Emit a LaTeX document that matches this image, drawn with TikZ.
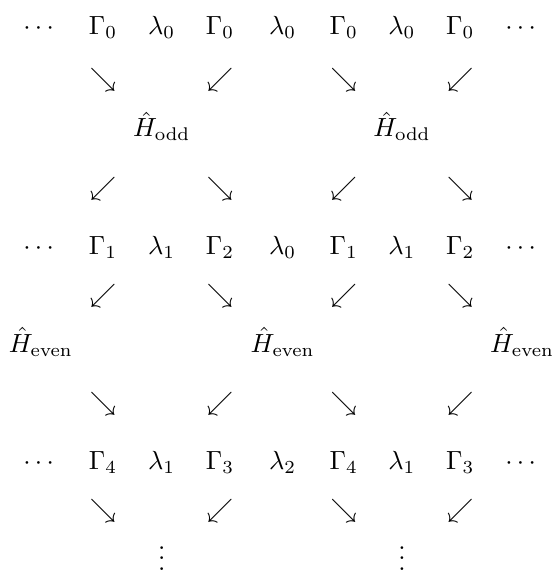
\documentclass[tikz,border=0pt]{standalone}
\usepackage{amsmath}

\begin{document}
\begin{tikzpicture}[x=1cm, y=-1cm,
    every node/.style={inner sep=0pt, scale=1.05},
    term/.style={anchor=base},
    arr/.style={anchor=center}]
\useasboundingbox (0,0) rectangle (7.789,8.042);
% chain rows
\foreach \x/\t [count=\i] in {0.574/\cdots, 1.448/\Gamma_0, 2.273/\lambda_0, 3.093/\Gamma_0, 3.974/\lambda_0, 4.832/\Gamma_0, 5.651/\lambda_0, 6.471/\Gamma_0, 7.350/\cdots}
  \node[term] (top-\i) at (\x,0.482) {$\t$};
\foreach \x/\t [count=\i] in {0.574/\cdots, 1.448/\Gamma_1, 2.273/\lambda_1, 3.093/\Gamma_2, 3.974/\lambda_0, 4.832/\Gamma_1, 5.651/\lambda_1, 6.471/\Gamma_2, 7.350/\cdots}
  \node[term] (mid-\i) at (\x,3.575) {$\t$};
\foreach \x/\t [count=\i] in {0.574/\cdots, 1.448/\Gamma_4, 2.273/\lambda_1, 3.093/\Gamma_3, 3.974/\lambda_2, 4.832/\Gamma_4, 5.651/\lambda_1, 6.471/\Gamma_3, 7.350/\cdots}
  \node[term] (bot-\i) at (\x,6.598) {$\t$};

% Hamiltonians
\node[term] (hodd-1) at (2.273,1.922) {$\hat{H}_{\mathrm{odd}}$};
\node[term] (hodd-2) at (5.651,1.922) {$\hat{H}_{\mathrm{odd}}$};
\node[term] (heven-1) at (0.574,4.953) {$\hat{H}_{\mathrm{even}}$};
\node[term] (heven-2) at (3.974,4.953) {$\hat{H}_{\mathrm{even}}$};
\node[term] (heven-3) at (7.340,4.953) {$\hat{H}_{\mathrm{even}}$};

% arrows between rows
\foreach \y/\p/\q [count=\r] in {1.125/\searrow/\swarrow, 2.657/\swarrow/\searrow, 4.154/\swarrow/\searrow, 5.673/\searrow/\swarrow, 7.180/\searrow/\swarrow}
{
  \node[arr] (arr-\r-1) at (1.448,\y) {$\p$};
  \node[arr] (arr-\r-2) at (3.093,\y) {$\q$};
  \node[arr] (arr-\r-3) at (4.832,\y) {$\p$};
  \node[arr] (arr-\r-4) at (6.471,\y) {$\q$};
}

% continues downward
\node[term] (more-1) at (2.273,8.02) {$\vdots$};
\node[term] (more-2) at (5.651,8.02) {$\vdots$};
\end{tikzpicture}
\end{document}
